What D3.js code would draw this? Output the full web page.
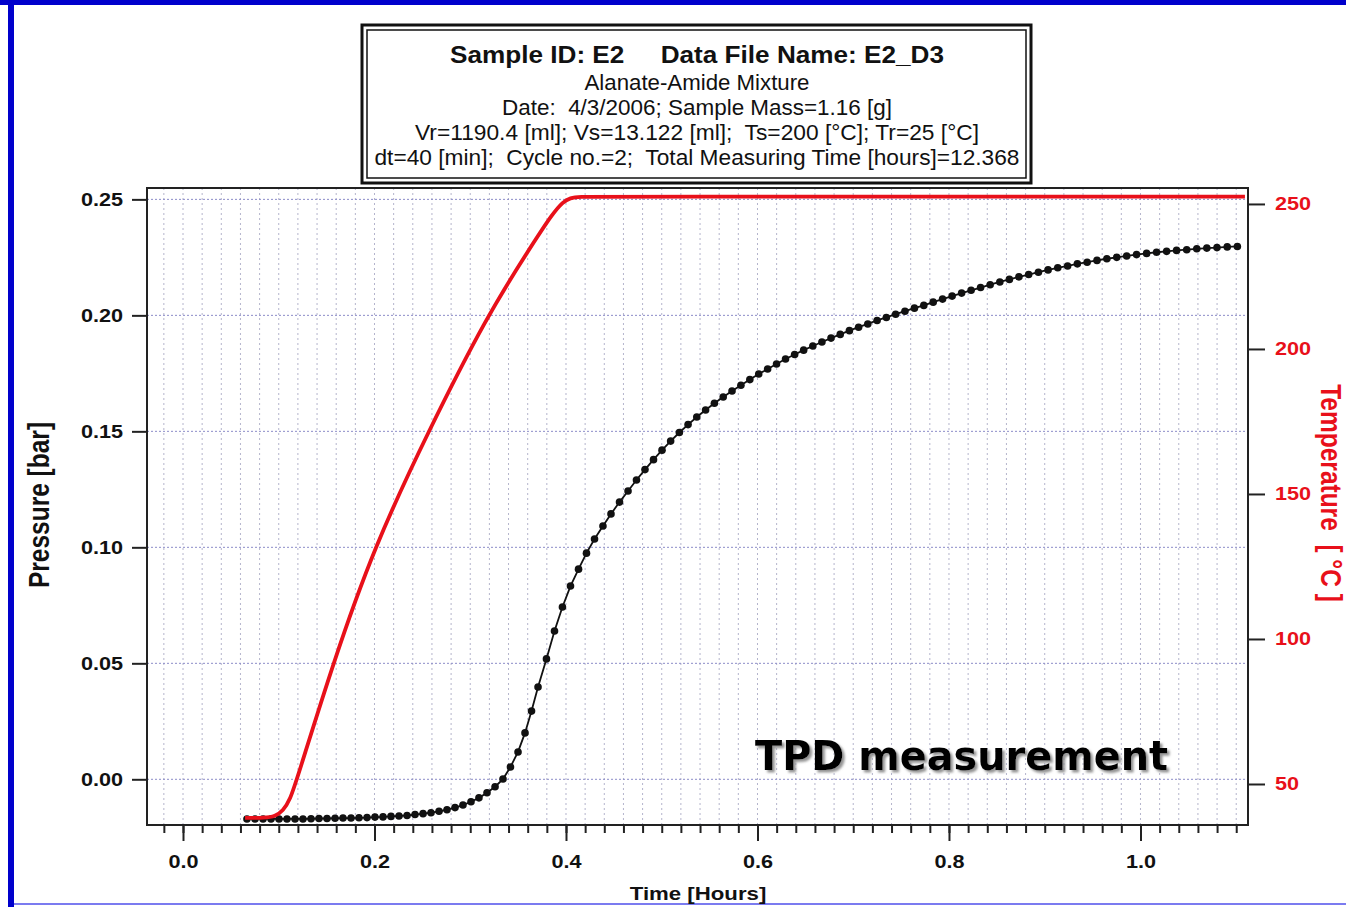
<!DOCTYPE html>
<html>
<head>
<meta charset="utf-8">
<script src="https://cdn.jsdelivr.net/npm/d3@7"></script>
<style>
  body { margin: 0; background: #fff; }
  svg { display: block; }
  text { font-family: Arial, "Liberation Sans", Helvetica, sans-serif; }
</style>
</head>
<body>
<svg id="chart" width="1346" height="907"></svg>
<script>
// ---- TPD run E2_D3: pressure (black, sampled) and sample temperature (red) ----
const timeP = [
  0.0668,0.0752,0.0836,0.0919,0.1003,0.1086,0.1170,0.1253,0.1337,0.1420,0.1504,0.1588,0.1671,0.1755,0.1838,0.1922,
  0.2005,0.2089,0.2172,0.2256,0.2340,0.2423,0.2507,0.2590,0.2674,0.2757,0.2841,0.2924,0.3008,0.3091,0.3175,0.3259,0.3342,
  0.3420,0.3499,0.3572,0.3640,0.3708,0.3796,0.3880,0.3963,0.4047,0.4131,0.4214,0.4298,0.4386,0.4470,0.4559,
  0.4648,0.4736,0.4825,0.4914,0.5003,0.5093,0.5184,0.5275,0.5366,0.5458,0.5550,0.5642,0.5734,0.5827,0.5920,
  0.6013,0.6106,0.6199,0.6293,0.6388,0.6482,0.6578,0.6673,0.6768,0.6864,0.6960,0.7056,0.7152,0.7249,0.7346,
  0.7443,0.7540,0.7639,0.7737,0.7835,0.7933,0.8033,0.8132,0.8231,0.8330,0.8430,0.8531,0.8631,0.8731,0.8832,
  0.8934,0.9035,0.9136,0.9239,0.9341,0.9443,0.9546,0.9649,0.9752,0.9856,0.9959,1.0064,1.0168,1.0273,1.0377,
  1.0483,1.0588,1.0693,1.0799,1.0906,1.1012
];
const pressure = [
  -0.0171,-0.0171,-0.0171,-0.0171,-0.0171,-0.0171,-0.0171,-0.0171,-0.0170,-0.0169,-0.0169,-0.0168,-0.0167,-0.0167,-0.0166,-0.0165,
  -0.0163,-0.0162,-0.0160,-0.0158,-0.0156,-0.0152,-0.0148,-0.0144,-0.0138,-0.0131,-0.0122,-0.0111,-0.0097,-0.0080,-0.0058,-0.0032,0.0001,
  0.0053,0.0118,0.0200,0.0294,0.0398,0.0519,0.0639,0.0743,0.0833,0.0906,0.0975,0.1036,0.1092,0.1144,0.1195,
  0.1243,0.1290,0.1335,0.1378,0.1419,0.1458,0.1495,0.1529,0.1562,0.1592,0.1621,0.1648,0.1674,0.1699,0.1723,
  0.1747,0.1769,0.1790,0.1812,0.1831,0.1850,0.1868,0.1885,0.1902,0.1918,0.1934,0.1949,0.1963,0.1978,0.1991,
  0.2005,0.2018,0.2031,0.2043,0.2057,0.2070,0.2083,0.2096,0.2108,0.2120,0.2132,0.2144,0.2155,0.2166,0.2176,
  0.2186,0.2196,0.2205,0.2213,0.2222,0.2229,0.2237,0.2244,0.2250,0.2256,0.2262,0.2267,0.2272,0.2276,0.2280,
  0.2283,0.2287,0.2290,0.2292,0.2295,0.2297
];
const timeT = [
  0.0648,0.0856,0.0961,0.1044,0.1117,0.1191,0.1567,0.1995,0.2559,0.3175,
  0.3624,0.3864,0.3969,0.4042,0.4146,0.4355,1.1091
];
const temperature = [
  38.3,38.3,38.8,40.7,44.5,51.7,91.7,131.7,171.4,211.4,
  234.8,246.9,250.7,252.1,252.5,252.55,252.55
];

const timeTicks = [0.0, 0.2, 0.4, 0.6, 0.8, 1.0];
const timeMinorTicks = d3.range(-1, 56).map(i => +(i * 0.02).toFixed(2));
const pressureTicks = [0.00, 0.05, 0.10, 0.15, 0.20, 0.25];
const temperatureTicks = [50, 100, 150, 200, 250];

const headerLines = [
  "Sample ID: E2     Data File Name: E2_D3",
  "Alanate-Amide Mixture",
  "Date:  4/3/2006; Sample Mass=1.16 [g]",
  "Vr=1190.4 [ml]; Vs=13.122 [ml];  Ts=200 [°C]; Tr=25 [°C]",
  "dt=40 [min];  Cycle no.=2;  Total Measuring Time [hours]=12.368"
];
const headerWidths = [494, 225, 390, 564, 645];
const xTitle = "Time [Hours]";
const yTitle = "Pressure [bar]";
const y2Title = "Temperature  [ °C ]";
const noteText = "TPD measurement";

// ---- layout ----
const svg = d3.select("#chart");
const W = 1346, H = 907;
const plot = { left: 147, right: 1248, top: 188, bottom: 825 };
const RED = "#e8101a";
const STRETCH = 1.17;

const x = d3.scaleLinear().domain([-0.0376, 1.1123]).range([plot.left, plot.right]);
const yP = d3.scaleLinear().domain([-0.0197, 0.2549]).range([plot.bottom, plot.top]);
const yT = d3.scaleLinear().domain([35.86, 255.5]).range([plot.bottom, plot.top]);

svg.append("rect").attr("width", W).attr("height", H).attr("fill", "#fff");

// page border
svg.append("rect").attr("x", 0).attr("y", 0).attr("width", W).attr("height", 5).attr("fill", "#0000cc");
svg.append("rect").attr("x", 8).attr("y", 0).attr("width", 6).attr("height", H).attr("fill", "#0000cc");
svg.append("rect").attr("x", 14).attr("y", 903).attr("width", W - 14).attr("height", 2).attr("fill", "#7b7bf0");

// grid
const grid = svg.append("g");
grid.selectAll("line.v").data(timeMinorTicks).join("line")
  .attr("x1", d => x(d)).attr("x2", d => x(d))
  .attr("y1", plot.top).attr("y2", plot.bottom)
  .attr("stroke", "#b4b4cc").attr("stroke-width", 1).attr("stroke-dasharray", "2,3");
grid.selectAll("line.h").data(pressureTicks).join("line")
  .attr("x1", plot.left).attr("x2", plot.right)
  .attr("y1", d => yP(d)).attr("y2", d => yP(d))
  .attr("stroke", "#8c8cc8").attr("stroke-width", 1).attr("stroke-dasharray", "2,2");

// pressure series
const pData = d3.zip(timeP, pressure);
svg.append("path").datum(pData)
  .attr("fill", "none").attr("stroke", "#111").attr("stroke-width", 1.8)
  .attr("d", d3.line().x(d => x(d[0])).y(d => yP(d[1])));
svg.append("g").selectAll("circle").data(pData).join("circle")
  .attr("cx", d => x(d[0])).attr("cy", d => yP(d[1])).attr("r", 3.8).attr("fill", "#111");

// temperature series (smoothed trace)
const tData = d3.zip(timeT, temperature);
svg.append("path").datum(tData)
  .attr("fill", "none").attr("stroke", RED).attr("stroke-width", 3.8)
  .attr("stroke-linejoin", "round")
  .attr("d", d3.line().curve(d3.curveBasis).x(d => x(d[0])).y(d => yT(d[1])));

// frame
svg.append("rect").attr("x", plot.left).attr("y", plot.top)
  .attr("width", plot.right - plot.left).attr("height", plot.bottom - plot.top)
  .attr("fill", "none").attr("stroke", "#222").attr("stroke-width", 2);

// axes
function styleAxis(g) {
  g.select(".domain").remove();
  g.selectAll(".tick line").attr("stroke", "#222").attr("stroke-width", 2);
  g.selectAll("text").attr("font-size", 18.5).attr("font-weight", "bold").attr("fill", "#111");
}
const xMinor = svg.append("g").attr("transform", `translate(0,${plot.bottom})`)
  .call(d3.axisBottom(x).tickValues(timeMinorTicks).tickSize(8).tickFormat(""));
styleAxis(xMinor);
const xMajor = svg.append("g").attr("transform", `translate(0,${plot.bottom})`)
  .call(d3.axisBottom(x).tickValues(timeTicks).tickSize(16).tickPadding(14).tickFormat(d3.format(".1f")));
styleAxis(xMajor);
xMajor.selectAll("text").attr("transform", `scale(${STRETCH},1)`);

const yLeft = svg.append("g").attr("transform", `translate(${plot.left},0)`)
  .call(d3.axisLeft(yP).tickValues(pressureTicks).tickSize(15).tickPadding(9).tickFormat(d3.format(".2f")));
styleAxis(yLeft);
yLeft.selectAll("text").attr("x", -24 / STRETCH).attr("transform", `scale(${STRETCH},1)`);

const yRight = svg.append("g").attr("transform", `translate(${plot.right},0)`)
  .call(d3.axisRight(yT).tickValues(temperatureTicks).tickSize(17).tickPadding(10).tickFormat(d3.format("d")));
styleAxis(yRight);
yRight.selectAll("text").attr("fill", RED).attr("x", 27 / STRETCH).attr("transform", `scale(${STRETCH},1)`);

// axis titles
svg.append("text").text(xTitle)
  .attr("transform", `translate(698,900) scale(${STRETCH},1)`)
  .attr("text-anchor", "middle").attr("font-size", 19).attr("font-weight", "bold").attr("fill", "#111");
svg.append("text").text(yTitle)
  .attr("transform", `translate(39,505) scale(${STRETCH},1) rotate(-90)`)
  .attr("text-anchor", "middle").attr("dy", "0.36em")
  .attr("font-size", 24.5).attr("font-weight", "bold").attr("fill", "#111");
svg.append("text").text(y2Title).style("white-space", "pre")
  .attr("transform", `translate(1331,493) scale(${STRETCH},1) rotate(90)`)
  .attr("text-anchor", "middle").attr("dy", "0.36em")
  .attr("font-size", 24.5).attr("font-weight", "bold").attr("fill", RED);

// header box
const box = { x: 362, y: 25, w: 669, h: 158 };
svg.append("rect").attr("x", box.x).attr("y", box.y).attr("width", box.w).attr("height", box.h)
  .attr("fill", "#fff").attr("stroke", "#111").attr("stroke-width", 3);
svg.append("rect").attr("x", box.x + 5).attr("y", box.y + 5).attr("width", box.w - 10).attr("height", box.h - 10)
  .attr("fill", "none").attr("stroke", "#111").attr("stroke-width", 1.5);
const headerBase = [63, 90, 115, 140, 165];
svg.append("g").selectAll("text").data(headerLines).join("text")
  .text(d => d).style("white-space", "pre")
  .attr("x", 697).attr("y", (d, i) => headerBase[i])
  .attr("text-anchor", "middle")
  .attr("font-size", (d, i) => i === 0 ? 23 : 21.5)
  .attr("font-weight", (d, i) => i === 0 ? "bold" : "normal")
  .attr("fill", "#111")
  .attr("textLength", (d, i) => headerWidths[i])
  .attr("lengthAdjust", "spacingAndGlyphs");

// annotation with a soft drop shadow
const defs = svg.append("defs");
defs.append("filter").attr("id", "shadow").attr("x", "-5%").attr("y", "-20%").attr("width", "110%").attr("height", "140%")
  .append("feDropShadow").attr("dx", 2.5).attr("dy", 2.5).attr("stdDeviation", 1.2)
  .attr("flood-color", "#888").attr("flood-opacity", 0.9);
svg.append("text").text(noteText)
  .attr("x", 755).attr("y", 770)
  .style("font-family", "'DejaVu Sans', Verdana, sans-serif")
  .attr("font-size", 40).attr("font-weight", "bold").attr("fill", "#000")
  .attr("textLength", 413).attr("lengthAdjust", "spacingAndGlyphs")
  .attr("filter", "url(#shadow)");
</script>
</body>
</html>
